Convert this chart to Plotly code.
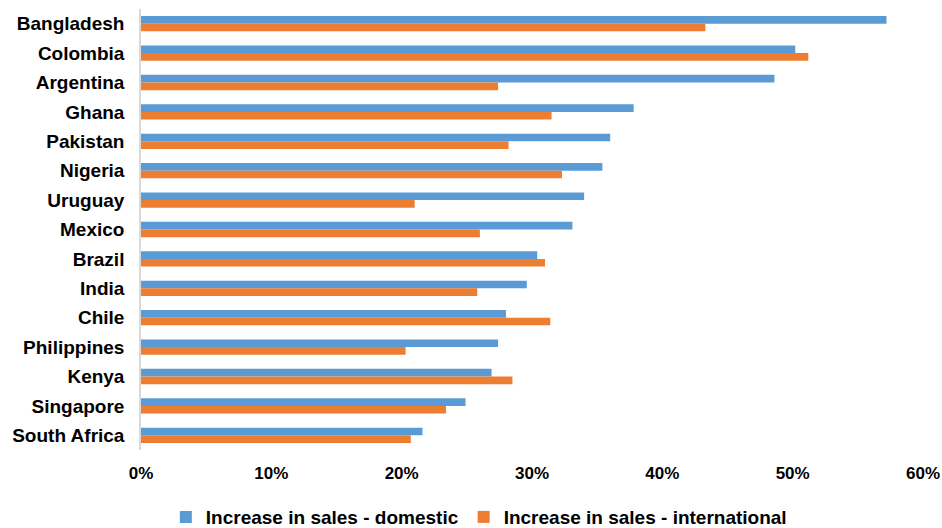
import plotly.graph_objects as go

countries = ["Bangladesh", "Colombia", "Argentina", "Ghana", "Pakistan", "Nigeria",
             "Uruguay", "Mexico", "Brazil", "India", "Chile", "Philippines",
             "Kenya", "Singapore", "South Africa"]
domestic = [0.572, 0.502, 0.486, 0.378, 0.360, 0.354, 0.340, 0.331, 0.304,
            0.296, 0.280, 0.274, 0.269, 0.249, 0.216]
international = [0.433, 0.512, 0.274, 0.315, 0.282, 0.323, 0.210, 0.260, 0.310,
                 0.258, 0.314, 0.203, 0.285, 0.234, 0.207]
x_ticks = [0, 0.1, 0.2, 0.3, 0.4, 0.5, 0.6]

fig = go.Figure()
fig.add_trace(go.Bar(y=countries, x=domestic, orientation="h",
                     name="Increase in sales - domestic",
                     marker=dict(color="#5B9BD5", line=dict(width=0))))
fig.add_trace(go.Bar(y=countries, x=international, orientation="h",
                     name="Increase in sales - international",
                     marker=dict(color="#ED7D31", line=dict(width=0))))

fig.update_layout(
    width=942, height=528,
    margin=dict(l=141, r=19, t=9, b=78, autoexpand=False),
    paper_bgcolor="white", plot_bgcolor="white",
    barmode="group", bargap=0.48, bargroupgap=0,
    font=dict(family="Liberation Sans, Arial, sans-serif", color="#000000"),
    showlegend=True,
    legend=dict(orientation="h", x=0.432, xanchor="center",
                yref="paper", y=-0.152, yanchor="middle",
                font=dict(size=19, family="Liberation Sans, Arial, sans-serif", weight="bold"),
                itemwidth=30, traceorder="normal"),
)
fig.update_xaxes(range=[0, 0.6], tickvals=x_ticks, tickformat=".0%",
                 showgrid=False, zeroline=False, showline=False,
                 ticks="", ticklabelstandoff=11, automargin=False,
                 tickfont=dict(size=17, weight="bold"))
fig.update_yaxes(autorange="reversed", showgrid=False, showline=True,
                 linecolor="#D9D9D9", linewidth=1.5, ticks="", ticklabelstandoff=11,
                 automargin=False, tickfont=dict(size=19, weight="bold"))

fig.write_html("out.html")
